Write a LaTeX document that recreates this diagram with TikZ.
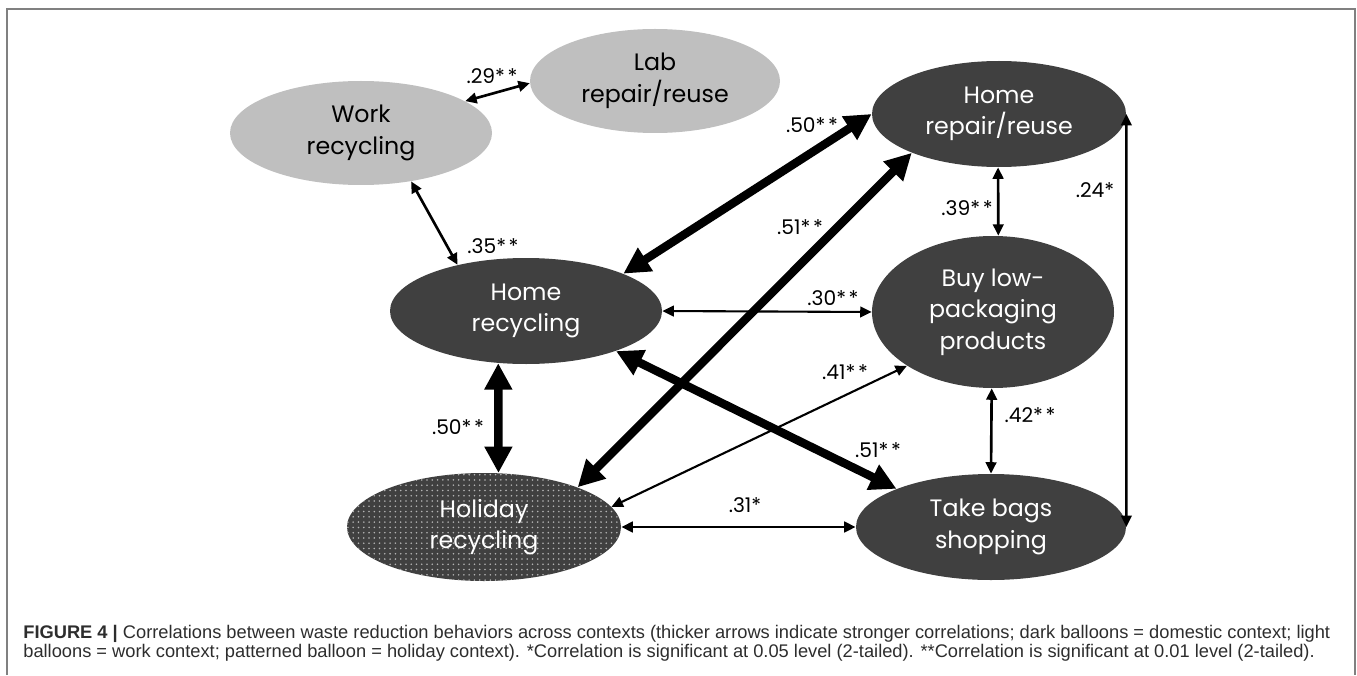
\documentclass[tikz,border=0pt]{standalone}
\usepackage{fontspec}
\setmainfont{Liberation Sans}
\newfontfamily\balloonfont{Poppins}
\usetikzlibrary{shapes.geometric,arrows.meta,patterns}
\definecolor{darkballoon}{RGB}{64,64,64}
\definecolor{lightballoon}{RGB}{191,191,191}
\definecolor{framegray}{RGB}{128,128,128}
\definecolor{captext}{RGB}{45,45,45}
\newcommand{\twostar}{*\hspace{1.5pt}*}

\begin{document}
\begin{tikzpicture}[
	balloon/.style={ellipse, inner sep=0pt, align=center, font=\balloonfont\fontsize{13.5}{18}\selectfont},
	darkb/.style={balloon, fill=darkballoon, text=white},
	lightb/.style={balloon, fill=lightballoon, text=black},
	corr/.style={font=\balloonfont\fontsize{11.5}{13}\selectfont},
	thinarr/.style={line width=1.5pt, {Triangle[length=6.5pt,width=6pt]}-{Triangle[length=6.5pt,width=6pt]}},
	thickarr/.style={line width=4.8pt, {Triangle[length=15pt,width=15pt]}-{Triangle[length=15pt,width=15pt]}},
	]
	
	\useasboundingbox (0,0) rectangle (27.14,13.5);
	
	% frame
	\draw[framegray, line width=1pt] (0.14,0) -- (0.14,13.32) -- (27.10,13.32) -- (27.10,0);
	
	% balloons
	\node[lightb, minimum width=5.24cm, minimum height=2.08cm] (work) at (7.22,10.84) {Work\\recycling};
	\node[lightb, minimum width=5.00cm, minimum height=2.08cm] (lab) at (13.10,11.88) {Lab\\repair/reuse};
	\node[darkb, minimum width=5.08cm, minimum height=2.12cm] (homerep) at (19.98,11.22) {Home\\repair/reuse};
	\node[darkb, minimum width=5.44cm, minimum height=2.12cm] (homerec) at (10.52,7.28) {Home\\recycling};
	\node[darkb, minimum width=4.84cm, minimum height=3.04cm] (buy) at (19.86,7.26) {Buy low-\\packaging\\products};
	\node[darkb, minimum width=5.40cm, minimum height=2.12cm] (take) at (19.82,2.96) {Take bags\\shopping};
	\node[darkb, minimum width=5.48cm, minimum height=2.16cm,
		postaction={pattern=dots, pattern color=white!60!darkballoon}] (holiday) at (9.68,2.96) {Holiday\\recycling};
	
	% correlations
	\draw[thinarr] (work.17) -- (lab.181);
	\draw[thinarr] (work.-44) -- (homerec.146);
	\draw[thickarr] (homerec.21) -- (homerep.180);
	\draw[thickarr] (holiday.23) -- (homerep.204);
	\draw[thinarr, line width=1.2pt] (homerec.0) -- (buy.180);
	\draw[thinarr, line width=1.2pt] (holiday.9) -- (buy.212);
	\draw[thickarr] (homerec.-24) -- (take.158);
	\draw[thickarr] (homerec.-118) -- (holiday.75);
	\draw[thinarr] (holiday.0) -- (take.180);
	\draw[thinarr] (homerep.-91) -- (buy.86);
	\draw[thinarr] (buy.-91) -- (take.90);
	\draw[thinarr] (homerep.0) -- (take.0);
	
	% labels
	\node[corr] (l29) at (9.84,11.98) {.29\twostar};
	\node[corr] (l35) at (9.86,8.58) {.35\twostar};
	\node[corr] (l50a) at (16.24,11.0) {.50\twostar};
	\node[corr] (l51a) at (16.0,8.96) {.51\twostar};
	\node[corr] (l39) at (19.34,9.34) {.39\twostar};
	\node[corr] (l24) at (21.9,9.7) {.24*};
	\node[corr] (l30) at (16.66,7.54) {.30\twostar};
	\node[corr] (l41) at (16.9,6.06) {.41\twostar};
	\node[corr] (l50b) at (9.16,4.96) {.50\twostar};
	\node[corr] (l51b) at (17.56,4.5) {.51\twostar};
	\node[corr] (l42) at (20.6,5.2) {.42\twostar};
	\node[corr] (l31) at (14.9,3.4) {.31*};
	
	% caption
	\node[anchor=base west, inner sep=0pt, text=captext, font=\fontsize{10.4}{12}\selectfont] (cap1) at (0.46,0.74)
		{\textbf{FIGURE 4 |} Correlations between waste reduction behaviors across contexts (thicker arrows indicate stronger correlations; dark balloons = domestic context; light};
	\node[anchor=base west, inner sep=0pt, text=captext, font=\fontsize{10.4}{12}\selectfont] (cap2) at (0.46,0.36)
		{balloons = work context; patterned balloon = holiday context). *Correlation is significant at 0.05 level (2-tailed). **Correlation is significant at 0.01 level (2-tailed).};
	
\end{tikzpicture}
\end{document}
